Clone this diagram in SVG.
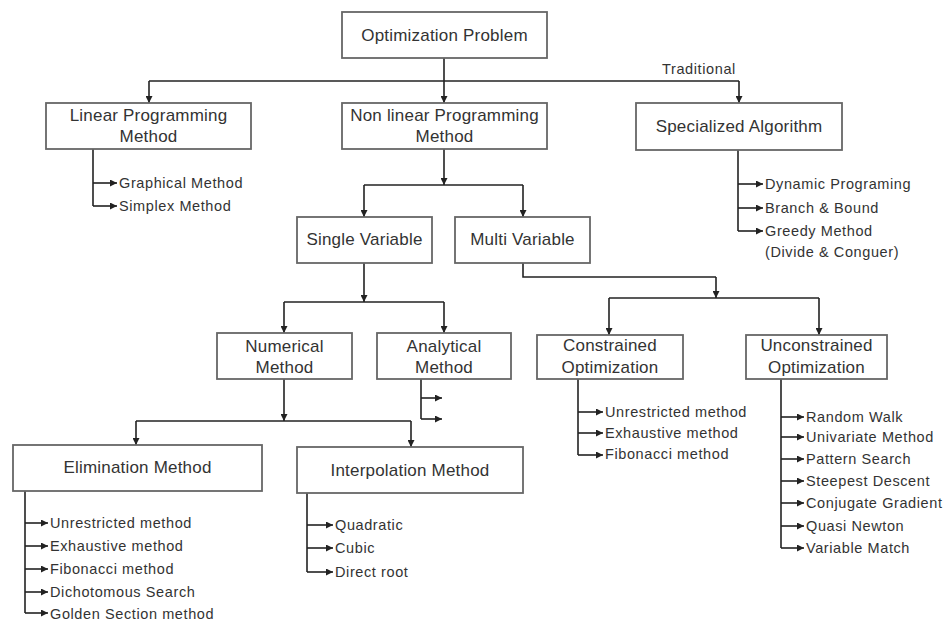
<svg xmlns="http://www.w3.org/2000/svg" width="947" height="622" viewBox="0 0 947 622">
  <style>
    .box { fill: #ffffff; stroke: #666666; stroke-width: 1.8; }
    .lbl { font-family: "Liberation Sans", Arial, sans-serif; font-size: 17px; letter-spacing: 0.2px; fill: #333333; text-anchor: middle; }
    .item { font-family: "Liberation Sans", Arial, sans-serif; font-size: 14.5px; letter-spacing: 0.6px; fill: #333333; }
    .wire { fill: none; stroke: #222222; stroke-width: 1.6; }
    .arr { fill: none; stroke: #222222; stroke-width: 1.6; marker-end: url(#tip); }
  </style>
  <defs>
    <marker id="tip" viewBox="0 0 10 10" refX="10" refY="5" markerUnits="userSpaceOnUse" markerWidth="7" markerHeight="7" orient="auto">
      <path d="M0,0 L10,5 L0,10 Z" fill="#222222"/>
    </marker>
  </defs>
  <rect width="947" height="622" fill="#ffffff"/>

  <g id="connectors">
    <!-- root fan-out -->
    <path class="wire" d="M444,58 V81"/>
    <path class="wire" d="M149,81 H739"/>
    <path class="arr" d="M149,81 V103"/>
    <path class="arr" d="M444,81 V103"/>
    <path class="arr" d="M739,81 V103"/>
    <!-- linear programming list -->
    <path class="wire" d="M93,149 V206"/>
    <path class="arr" d="M93,183 H117"/>
    <path class="arr" d="M93,206 H117"/>
    <!-- specialized algorithm list -->
    <path class="wire" d="M738,150 V231"/>
    <path class="arr" d="M738,184 H763"/>
    <path class="arr" d="M738,208 H763"/>
    <path class="arr" d="M738,231 H763"/>
    <!-- non linear split -->
    <path class="arr" d="M444,149 V185"/>
    <path class="wire" d="M364,185 H523"/>
    <path class="arr" d="M364,185 V217"/>
    <path class="arr" d="M523,185 V217"/>
    <!-- single variable split -->
    <path class="arr" d="M364,263 V302"/>
    <path class="wire" d="M284,302 H444"/>
    <path class="arr" d="M284,302 V333"/>
    <path class="arr" d="M444,302 V333"/>
    <!-- analytical method stubs -->
    <path class="wire" d="M421,379 V419"/>
    <path class="arr" d="M421,398 H442"/>
    <path class="arr" d="M421,419 H442"/>
    <!-- numerical method split -->
    <path class="arr" d="M284,379 V421"/>
    <path class="wire" d="M136,421 H411"/>
    <path class="arr" d="M136,421 V445"/>
    <path class="arr" d="M411,421 V447"/>
    <!-- elimination list -->
    <path class="wire" d="M25,491 V613"/>
    <path class="arr" d="M25,523 H48"/>
    <path class="arr" d="M25,546 H48"/>
    <path class="arr" d="M25,569 H48"/>
    <path class="arr" d="M25,592 H48"/>
    <path class="arr" d="M25,613 H48"/>
    <!-- interpolation list -->
    <path class="wire" d="M307,493 V572"/>
    <path class="arr" d="M307,525 H333"/>
    <path class="arr" d="M307,548 H333"/>
    <path class="arr" d="M307,572 H333"/>
    <!-- multi variable split -->
    <path class="wire" d="M523,263 V277 H716"/>
    <path class="arr" d="M716,277 V298"/>
    <path class="wire" d="M609,298 H819"/>
    <path class="arr" d="M609,298 V335"/>
    <path class="arr" d="M819,298 V335"/>
    <!-- constrained list -->
    <path class="wire" d="M578,379 V455"/>
    <path class="arr" d="M578,412 H603"/>
    <path class="arr" d="M578,433 H603"/>
    <path class="arr" d="M578,455 H603"/>
    <!-- unconstrained list -->
    <path class="wire" d="M781,379 V548"/>
    <path class="arr" d="M781,417 H804"/>
    <path class="arr" d="M781,437 H804"/>
    <path class="arr" d="M781,459 H804"/>
    <path class="arr" d="M781,481 H804"/>
    <path class="arr" d="M781,503 H804"/>
    <path class="arr" d="M781,526 H804"/>
    <path class="arr" d="M781,548 H804"/>
    <text class="item" x="699" y="74" text-anchor="middle">Traditional</text>
  </g>

  <g id="optimization-problem">
    <rect class="box" x="342" y="12" width="205" height="46"/>
    <text class="lbl" x="444.5" y="41">Optimization Problem</text>
  </g>

  <g id="linear-programming">
    <rect class="box" x="46" y="103" width="205" height="46"/>
    <text class="lbl" x="148.5" y="121">Linear Programming</text>
    <text class="lbl" x="148.5" y="142">Method</text>
  </g>
  <g id="linear-programming-items">
    <text class="item" x="119" y="188">Graphical Method</text>
    <text class="item" x="119" y="211">Simplex Method</text>
  </g>

  <g id="nonlinear-programming">
    <rect class="box" x="342" y="103" width="205" height="46"/>
    <text class="lbl" x="444.5" y="121">Non linear Programming</text>
    <text class="lbl" x="444.5" y="142">Method</text>
  </g>

  <g id="specialized-algorithm">
    <rect class="box" x="636" y="103" width="206" height="47"/>
    <text class="lbl" x="739" y="132">Specialized Algorithm</text>
  </g>
  <g id="specialized-algorithm-items">
    <text class="item" x="765" y="189">Dynamic Programing</text>
    <text class="item" x="765" y="213">Branch &amp; Bound</text>
    <text class="item" x="765" y="236">Greedy Method</text>
    <text class="item" x="765" y="257">(Divide &amp; Conguer)</text>
  </g>

  <g id="single-variable">
    <rect class="box" x="297" y="217" width="135" height="46"/>
    <text class="lbl" x="364.5" y="245">Single Variable</text>
  </g>

  <g id="multi-variable">
    <rect class="box" x="455" y="217" width="135" height="46"/>
    <text class="lbl" x="522.5" y="245">Multi Variable</text>
  </g>

  <g id="numerical-method">
    <rect class="box" x="217" y="333" width="135" height="46"/>
    <text class="lbl" x="284.5" y="352">Numerical</text>
    <text class="lbl" x="284.5" y="373">Method</text>
  </g>

  <g id="analytical-method">
    <rect class="box" x="377" y="333" width="134" height="46"/>
    <text class="lbl" x="444" y="352">Analytical</text>
    <text class="lbl" x="444" y="373">Method</text>
  </g>

  <g id="constrained-optimization">
    <rect class="box" x="537" y="335" width="146" height="44"/>
    <text class="lbl" x="610" y="351">Constrained</text>
    <text class="lbl" x="610" y="373">Optimization</text>
  </g>
  <g id="constrained-items">
    <text class="item" x="605" y="417">Unrestricted method</text>
    <text class="item" x="605" y="438">Exhaustive method</text>
    <text class="item" x="605" y="459">Fibonacci method</text>
  </g>

  <g id="unconstrained-optimization">
    <rect class="box" x="746" y="335" width="141" height="44"/>
    <text class="lbl" x="816.5" y="351">Unconstrained</text>
    <text class="lbl" x="816.5" y="373">Optimization</text>
  </g>
  <g id="unconstrained-items">
    <text class="item" x="806" y="422">Random Walk</text>
    <text class="item" x="806" y="442">Univariate Method</text>
    <text class="item" x="806" y="464">Pattern Search</text>
    <text class="item" x="806" y="486">Steepest Descent</text>
    <text class="item" x="806" y="508">Conjugate Gradient</text>
    <text class="item" x="806" y="531">Quasi Newton</text>
    <text class="item" x="806" y="553">Variable Match</text>
  </g>

  <g id="elimination-method">
    <rect class="box" x="13" y="445" width="249" height="46"/>
    <text class="lbl" x="137.5" y="473">Elimination Method</text>
  </g>
  <g id="elimination-items">
    <text class="item" x="50" y="528">Unrestricted method</text>
    <text class="item" x="50" y="551">Exhaustive method</text>
    <text class="item" x="50" y="574">Fibonacci method</text>
    <text class="item" x="50" y="597">Dichotomous Search</text>
    <text class="item" x="50" y="619">Golden Section method</text>
  </g>

  <g id="interpolation-method">
    <rect class="box" x="297" y="447" width="226" height="46"/>
    <text class="lbl" x="410" y="476">Interpolation Method</text>
  </g>
  <g id="interpolation-items">
    <text class="item" x="335" y="530">Quadratic</text>
    <text class="item" x="335" y="553">Cubic</text>
    <text class="item" x="335" y="577">Direct root</text>
  </g>
</svg>
